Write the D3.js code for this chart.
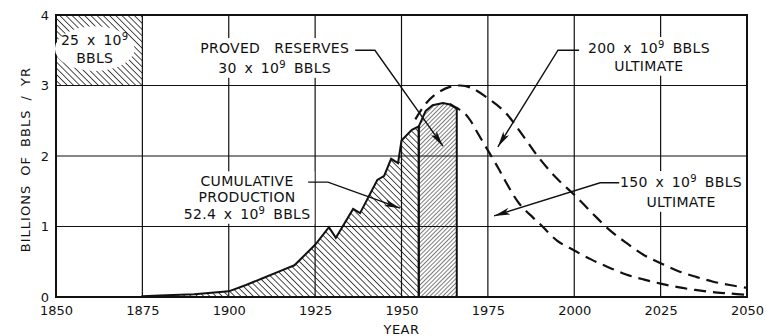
<!DOCTYPE html>
<html lang="en">
<head>
    <meta charset="UTF-8">
    <title>Hubbert Curve | D3</title>
    <style>
        body { margin: 0; background: #fff; }
        text { font-family: "DejaVu Sans", sans-serif; fill: #111; }
    </style>
</head>
<body>
    <div class="graph-container"></div>

    <script type="text/javascript" src="https://d3js.org/d3.v7.min.js"></script>
    <script type="text/javascript">
        // Annual production, billions of barrels per year
        var prodYears  = [1875, 1880, 1890, 1900, 1905, 1910, 1915, 1919, 1925, 1929, 1931, 1936, 1938, 1943, 1945, 1947, 1949, 1950, 1953, 1955, 1957, 1959, 1962, 1964, 1966];
        var prodValues = [0.01, 0.02, 0.04, 0.08, 0.17, 0.27, 0.37, 0.45, 0.74, 0.99, 0.84, 1.25, 1.19, 1.66, 1.72, 1.96, 1.90, 2.22, 2.37, 2.42, 2.64, 2.72, 2.75, 2.73, 2.67];
        var cumulativeEnd = 1955; // production to date | proved reserves after

        // Projected curves
        var ult200Years  = [1954, 1957, 1960, 1964, 1967, 1970, 1975, 1980, 1985, 1990, 1995, 2000, 2005, 2010, 2015, 2020, 2025, 2030, 2035, 2040, 2045, 2050];
        var ult200Values = [2.52, 2.74, 2.88, 2.98, 3.00, 2.97, 2.82, 2.62, 2.30, 1.96, 1.68, 1.45, 1.20, 0.96, 0.77, 0.60, 0.48, 0.37, 0.29, 0.22, 0.17, 0.13];
        var ult150Years  = [1964, 1966, 1968, 1970, 1972, 1975, 1978, 1980, 1984, 1988, 1990, 1995, 2000, 2005, 2010, 2015, 2020, 2025, 2030, 2035, 2040, 2045, 2050];
        var ult150Values = [2.74, 2.68, 2.62, 2.50, 2.33, 2.08, 1.83, 1.65, 1.33, 1.13, 1.04, 0.80, 0.66, 0.53, 0.42, 0.32, 0.25, 0.19, 0.14, 0.10, 0.07, 0.05, 0.03];

        var xTicks = [1850, 1875, 1900, 1925, 1950, 1975, 2000, 2025, 2050];
        var yTicks = [0, 1, 2, 3, 4];

        var canvasWidth = 766;
        var canvasHeight = 336;
        var margin = { top: 15, right: 19, bottom: 39, left: 56 };

        var x = d3.scaleLinear().domain([1850, 2050]).range([margin.left, canvasWidth - margin.right]);
        var y = d3.scaleLinear().domain([0, 4]).range([canvasHeight - margin.bottom, margin.top]);

        var svg = d3.select(".graph-container")
            .append("svg")
            .attr("width", canvasWidth)
            .attr("height", canvasHeight);

        // Hatch patterns
        var defs = svg.append("defs");
        function hatch(id, size, angle, width) {
            defs.append("pattern")
                .attr("id", id)
                .attr("patternUnits", "userSpaceOnUse")
                .attr("width", size).attr("height", size)
                .attr("patternTransform", "rotate(" + angle + ")")
                .append("line")
                .attr("x1", 0).attr("y1", 0).attr("x2", 0).attr("y2", size)
                .attr("stroke", "#111").attr("stroke-width", width);
        }
        hatch("hatch-prod", 4.4, -45, 1.5);
        hatch("hatch-box", 4.4, -45, 1.5);
        hatch("hatch-res", 3.0, 45, 1.1);

        defs.append("marker")
            .attr("id", "arrow")
            .attr("viewBox", "0 0 16 7")
            .attr("refX", 16).attr("refY", 3.5)
            .attr("markerWidth", 16).attr("markerHeight", 7)
            .attr("markerUnits", "userSpaceOnUse")
            .attr("orient", "auto")
            .append("path")
            .attr("d", "M0,0 L16,3.5 L0,7 L4,3.5 Z")
            .attr("fill", "#111");

        // Upper-left reference box, 25 x 10^9 bbls
        svg.append("rect")
            .attr("x", x(1850)).attr("y", y(4))
            .attr("width", x(1875) - x(1850)).attr("height", y(3) - y(4))
            .attr("fill", "url(#hatch-box)");

        // Production areas
        var prod = prodYears.map(function(d, i) { return { year: d, value: prodValues[i] }; });
        var area = d3.area()
            .x(function(d) { return x(d.year); })
            .y0(y(0))
            .y1(function(d) { return y(d.value); });

        svg.append("path")
            .datum(prod.filter(function(d) { return d.year <= cumulativeEnd; }))
            .attr("d", area)
            .attr("fill", "url(#hatch-prod)")
            .attr("stroke", "#111").attr("stroke-width", 2);

        svg.append("path")
            .datum(prod.filter(function(d) { return d.year >= cumulativeEnd; }))
            .attr("d", area)
            .attr("fill", "url(#hatch-res)")
            .attr("stroke", "#111").attr("stroke-width", 2);

        // Grid
        var grid = svg.append("g").attr("class", "grid").attr("stroke", "#111").attr("stroke-width", 1.2);
        grid.selectAll("line.v")
            .data(xTicks.slice(1, -1))
            .enter().append("line")
            .attr("x1", function(d) { return x(d); }).attr("x2", function(d) { return x(d); })
            .attr("y1", y(0)).attr("y2", y(4));
        grid.selectAll("line.h")
            .data(yTicks.slice(1, -1))
            .enter().append("line")
            .attr("x1", x(1850)).attr("x2", x(2050))
            .attr("y1", function(d) { return y(d); }).attr("y2", function(d) { return y(d); });

        // Frame
        svg.append("rect")
            .attr("x", x(1850)).attr("y", y(4))
            .attr("width", x(2050) - x(1850)).attr("height", y(0) - y(4))
            .attr("fill", "none").attr("stroke", "#111").attr("stroke-width", 2);

        // Projected curves
        var line = d3.line()
            .x(function(d) { return x(d.year); })
            .y(function(d) { return y(d.value); })
            .curve(d3.curveCatmullRom);

        [[ult200Years, ult200Values], [ult150Years, ult150Values]].forEach(function(s) {
            svg.append("path")
                .datum(s[0].map(function(d, i) { return { year: d, value: s[1][i] }; }))
                .attr("d", line)
                .attr("fill", "none")
                .attr("stroke", "#111").attr("stroke-width", 2.2)
                .attr("stroke-dasharray", "12,7");
        });

        // Axes
        svg.append("g")
            .attr("transform", "translate(" + x(1850) + ",0)")
            .call(d3.axisLeft(y).tickValues(yTicks).tickSize(0).tickPadding(7).tickFormat(d3.format("d")));
        svg.append("g")
            .attr("transform", "translate(0," + y(0) + ")")
            .call(d3.axisBottom(x).tickValues(xTicks).tickSize(0).tickPadding(9).tickFormat(d3.format("d")));
        svg.selectAll(".domain").remove();
        svg.selectAll(".tick text").attr("font-size", 13).attr("font-family", "DejaVu Sans").attr("fill", "#111");

        svg.append("text")
            .attr("x", x(1950)).attr("y", 334)
            .attr("text-anchor", "middle")
            .attr("font-size", 13)
            .attr("letter-spacing", 0.5)
            .text("YEAR");

        svg.append("text")
            .attr("transform", "translate(30," + y(1.95) + ") rotate(-90)")
            .attr("text-anchor", "middle")
            .attr("font-size", 13)
            .attr("letter-spacing", 1)
            .attr("word-spacing", 4)
            .text("BILLIONS OF BBLS / YR");

        // Labels: each line is a list of [text, superscript?, back-to-baseline?, dx] pieces
        function label(cx, lines, oval) {
            var g = svg.append("g");
            var t = g.append("text")
                .attr("text-anchor", "middle")
                .attr("font-size", 14)
                .attr("letter-spacing", 0.3)
                .attr("word-spacing", 3);
            lines.forEach(function(l) {
                var first = true;
                l.parts.forEach(function(p) {
                    var ts = t.append("tspan").text(p[0]);
                    if (first) { ts.attr("x", x(cx)).attr("y", y(l.v)); first = false; }
                    if (p[1]) { ts.attr("font-size", 10).attr("dy", -5); }
                    else if (p[2]) { ts.attr("dy", 5); }
                    if (p[3]) { ts.attr("dx", p[3]); }
                });
            });
            var b = t.node().getBBox();
            if (oval) {
                g.insert("ellipse", "text")
                    .attr("cx", b.x + b.width / 2).attr("cy", b.y + b.height / 2)
                    .attr("rx", b.width / 2 + 6).attr("ry", b.height / 2 + 5)
                    .attr("fill", "#fff");
            } else {
                g.insert("rect", "text")
                    .attr("x", b.x - 4).attr("y", b.y - 2)
                    .attr("width", b.width + 8).attr("height", b.height + 4)
                    .attr("fill", "#fff");
            }
        }

        function leader(pts) {
            svg.append("path")
                .attr("d", d3.line()(pts.map(function(p) { return [x(p[0]), y(p[1])]; })))
                .attr("fill", "none")
                .attr("stroke", "#111").attr("stroke-width", 1.4)
                .attr("marker-end", "url(#arrow)");
        }

        label(1861.2, [
            { v: 3.57, parts: [["25 x 10"], ["9", true], ["", false, true]] },
            { v: 3.32, parts: [["BBLS"]] }
        ], true);

        label(1913.3, [
            { v: 3.46, parts: [["PROVED"], ["RESERVES", false, false, 14]] },
            { v: 3.18, parts: [["30 x 10"], ["9", true], ["BBLS", false, true, 8]] }
        ]);
        leader([[1936.6, 3.50], [1942.3, 3.50], [1962.0, 2.14]]);

        label(2021.6, [
            { v: 3.46, parts: [["200 x 10"], ["9", true], ["BBLS", false, true, 8]] },
            { v: 3.21, parts: [["ULTIMATE"]] }
        ]);
        leader([[2001.4, 3.50], [1995.3, 3.50], [1977.9, 2.13]]);

        label(1905.3, [
            { v: 1.57, parts: [["CUMULATIVE"]] },
            { v: 1.35, parts: [["PRODUCTION"]] },
            { v: 1.11, parts: [["52.4 x 10"], ["9", true], ["BBLS", false, true, 8]] }
        ]);
        leader([[1923.0, 1.63], [1928.7, 1.63], [1949.6, 1.26]]);

        label(2030.9, [
            { v: 1.56, parts: [["150 x 10"], ["9", true], ["BBLS", false, true, 8]] },
            { v: 1.28, parts: [["ULTIMATE"]] }
        ]);
        leader([[2013.0, 1.62], [2007.5, 1.62], [1976.8, 1.15]]);
    </script>
</body>
</html>
